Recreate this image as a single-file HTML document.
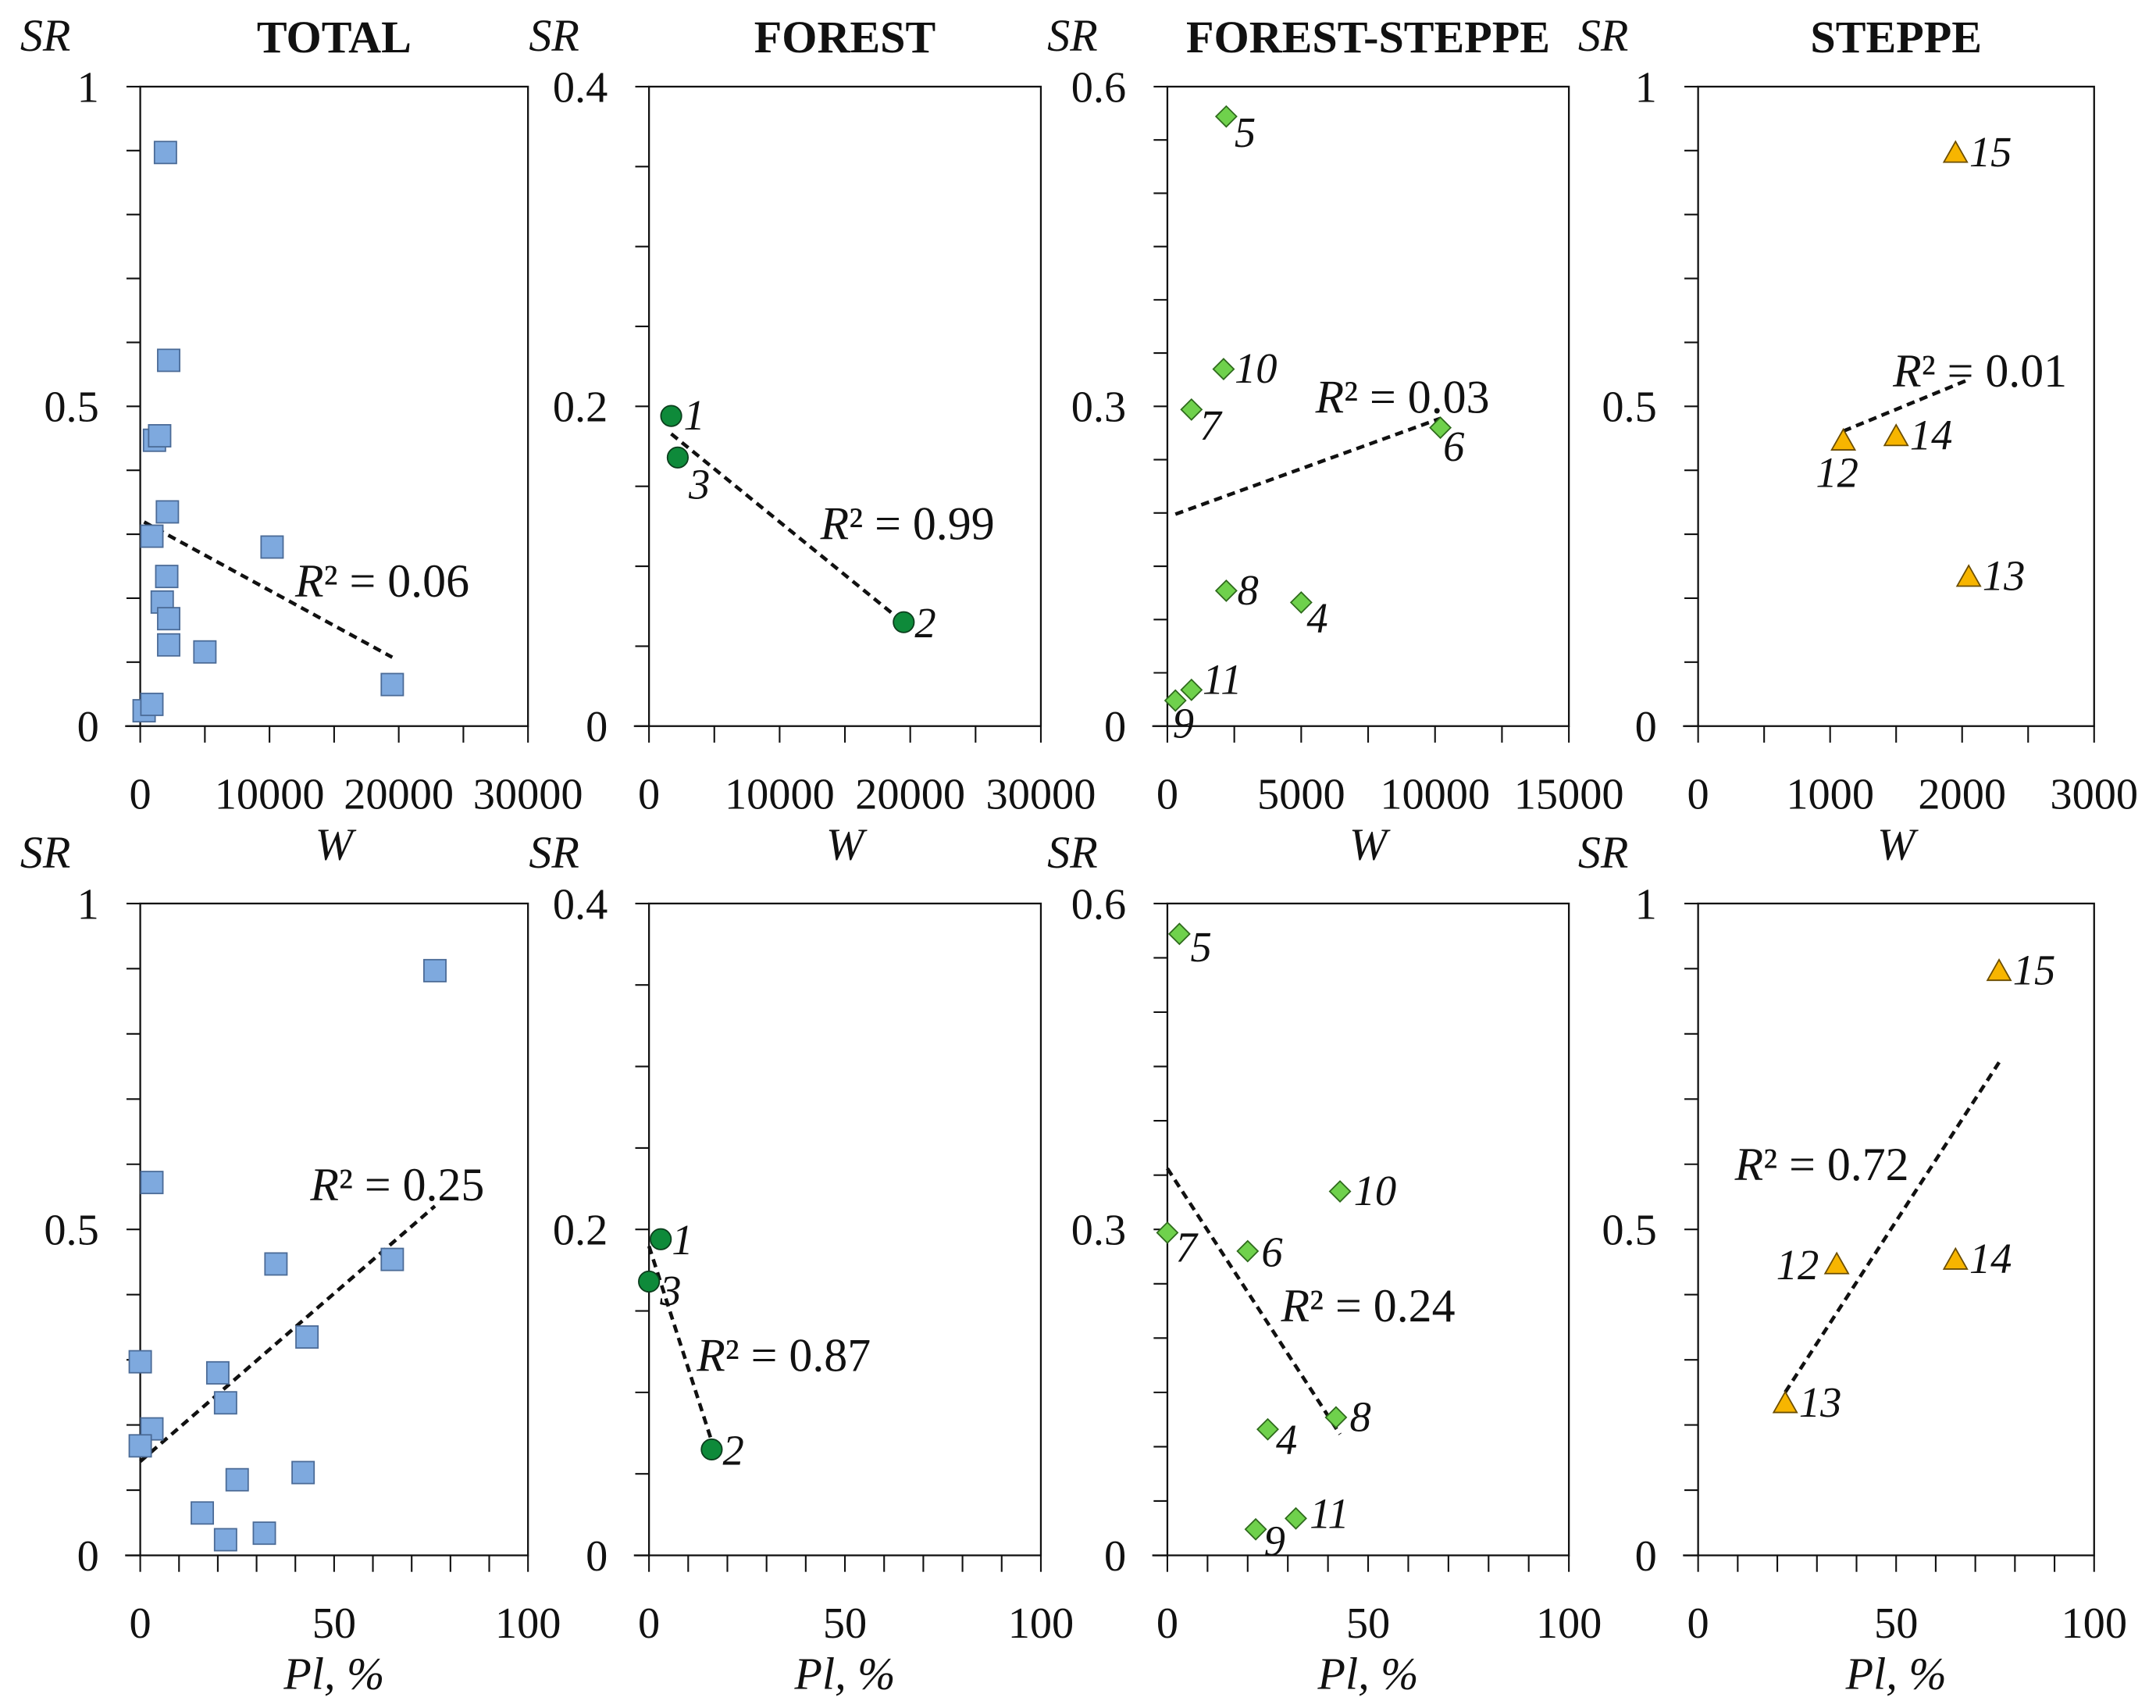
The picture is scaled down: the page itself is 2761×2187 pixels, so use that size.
<!DOCTYPE html>
<html><head><meta charset="utf-8"><style>
html,body{margin:0;padding:0;background:#fff;}
svg{display:block;}
text{font-family:"Liberation Serif","DejaVu Serif",serif;fill:#111;}
</style></head><body>
<svg id="chart" width="2761" height="2187" viewBox="0 0 1568 1242" preserveAspectRatio="none" xmlns="http://www.w3.org/2000/svg"></svg>
<script>
// Site data (site ids, W, Pl %, SR)
const siteIds = [1,2,3,4,5,6,7,8,9,10,11,12,13,14,15];
const siteW   = [1700,19500,2200,5000,2200,10200,900,2200,300,2100,900,1100,2050,1500,1950];
const sitePl  = [3,16,0,25,3,20,0,42,22,43,32,35,22,65,76];
const siteSR  = [0.194,0.065,0.168,0.116,0.572,0.28,0.297,0.127,0.024,0.335,0.034,0.447,0.234,0.454,0.897];
const zoneOf  = ['F','F','F','FS','FS','FS','FS','FS','FS','FS','FS','S','S','S','S'];
const panelTitles = ['TOTAL','FOREST','FOREST-STEPPE','STEPPE'];
const r2TopLabels = ['R² = 0.06','R² = 0.99','R² = 0.03','R² = 0.01'];
const r2BotLabels = ['R² = 0.25','R² = 0.87','R² = 0.24','R² = 0.72'];
const wTickLabels = [['0','10000','20000','30000'],['0','10000','20000','30000'],['0','5000','10000','15000'],['0','1000','2000','3000']];
const plTickLabels = ['0','50','100'];
const yTickLabels = [['0','0.5','1'],['0','0.2','0.4'],['0','0.3','0.6'],['0','0.5','1']];

const NS='http://www.w3.org/2000/svg';
const svg=document.getElementById('chart');
function el(tag,attrs,parent){const e=document.createElementNS(NS,tag);for(const k in attrs)e.setAttribute(k,attrs[k]);(parent||svg).appendChild(e);return e;}
function txt(s,x,y,size,opts,parent){const t=el('text',Object.assign({x:x,y:y,'font-size':size},opts||{}),parent);t.textContent=s;return t;}

const cols=[{x0:102,x1:384},{x0:472,x1:757},{x0:849,x1:1141},{x0:1235,x1:1523}];
const rows=[{y0:63,y1:528},{y0:657,y1:1131}];
const wMax=[30000,30000,15000,3000];
const yMax=[1,0.4,0.6,1];
const yMinor=[10,8,12,10];
const zones=[null,'F','FS','S'];
const r2Pos=[[[278,434],[660,392],[1020,300],[1440,281]],[[289,873],[570,997],[995,961],[1325,858]]];
const offTop={1:[9,10],3:[8,30],2:[8,11],5:[6,22],10:[8,10],7:[6,22],6:[2,24],8:[8,10],4:[4,22],11:[8,3],9:[-2,27],15:[10,10],12:[-20,34],14:[10,10],13:[10,10]};
const offBot={1:[8,11],3:[8,17],2:[8,11],5:[8,20],7:[6,21],6:[10,11],10:[10,10],8:[10,10],4:[6,18],11:[10,7],9:[6,19],15:[10,10],12:[-44,11],14:[10,10],13:[10,10]};

function marker(zone,cx,cy,g,name){
  let m;
  if(zone==='F') m=el('circle',{cx:cx,cy:cy,r:7.5,fill:'#0e8a3a',stroke:'#0b3d1c','stroke-width':1},g);
  else if(zone==='FS') m=el('polygon',{points:`${cx},${cy-7.5} ${cx+7.5},${cy} ${cx},${cy+7.5} ${cx-7.5},${cy}`,fill:'#6fd14c',stroke:'#2e6a1c','stroke-width':1},g);
  else if(zone==='S') m=el('polygon',{points:`${cx},${cy-8} ${cx+8.5},${cy+7} ${cx-8.5},${cy+7}`,fill:'#f7b500',stroke:'#6a4c00','stroke-width':1},g);
  else m=el('rect',{x:cx-8,y:cy-8,width:16,height:16,fill:'#7ea9de',stroke:'#4a6a96','stroke-width':1},g);
  
  
}

for(let r=0;r<2;r++){
  for(let c=0;c<4;c++){
    const {x0,x1}=cols[c],{y0,y1}=rows[r];
    const g=el('g',{});
    
    
    const xm=r===0?wMax[c]:100;
    const sx=v=>x0+v/xm*(x1-x0);
    const sy=v=>y1-v/yMax[c]*(y1-y0);
    const fr=el('rect',{x:x0,y:y0,width:x1-x0,height:y1-y0,fill:'none',stroke:'#111','stroke-width':1.3},g);
    
    
    el('line',{x1:x0-11,y1:y1,x2:x0,y2:y1,stroke:'#111','stroke-width':1.3},g);
    for(let i=0;i<=yMinor[c];i++){const yy=y1-i*(y1-y0)/yMinor[c];el('line',{x1:x0-10,y1:yy,x2:x0,y2:yy,stroke:'#111','stroke-width':1.2},g);}
    const nx=r===0?6:10;
    for(let i=0;i<=nx;i++){const xx=x0+i*(x1-x0)/nx;el('line',{x1:xx,y1:y1,x2:xx,y2:y1+12,stroke:'#111','stroke-width':1.2},g);}
    yTickLabels[c].forEach((s,i)=>{const t=txt(s,x0-30,sy(i*yMax[c]/2)+11,32,{'text-anchor':'end'},g);});
    const xl=r===0?wTickLabels[c]:plTickLabels;
    xl.forEach((s,i)=>{const t=txt(s,x0+i*(x1-x0)/(xl.length-1),y1+60,32,{'text-anchor':'middle'},g);});
    const sr=txt('SR',x0-69,y0-26,33,{'font-style':'italic','text-anchor':'middle'},g);
    
    const xt=txt(r===0?'W':'Pl, %',(x0+x1)/2,y1+97,33,{'font-style':'italic','text-anchor':'middle'},g);
    
    if(r===0){const tt=txt(panelTitles[c],(x0+x1)/2,38,33,{'font-weight':'bold','text-anchor':'middle'},g);}
    const idx=[];for(let i=0;i<siteIds.length;i++){if(!zones[c]||zoneOf[i]===zones[c])idx.push(i);}
    const xs=idx.map(i=>r===0?siteW[i]:sitePl[i]);const ys=idx.map(i=>siteSR[i]);
    const n=xs.length,mx=xs.reduce((a,b)=>a+b)/n,my=ys.reduce((a,b)=>a+b)/n;
    let sxy=0,sxx=0;for(let k=0;k<n;k++){sxy+=(xs[k]-mx)*(ys[k]-my);sxx+=(xs[k]-mx)**2;}
    const b=sxy/sxx,a=my-b*mx;const xa=Math.min(...xs),xb=Math.max(...xs);
    const tl=el('line',{x1:sx(xa),y1:sy(a+b*xa),x2:sx(xb),y2:sy(a+b*xb),stroke:'#111','stroke-width':2.6,'stroke-dasharray':'6,4'},g);
    
    idx.forEach((i,k)=>{
      marker(zones[c],sx(xs[k]),sy(ys[k]),g,'point-site-'+siteIds[i]);
      if(zones[c]){const o=(r===0?offTop:offBot)[siteIds[i]];const t=txt(String(siteIds[i]),sx(xs[k])+o[0],sy(ys[k])+o[1],31,{'font-style':'italic'},g);}
    });
    const p=r2Pos[r][c];
    const rt=el('text',{x:p[0],y:p[1],'font-size':34,'text-anchor':'middle'},g);
    const lab=(r===0?r2TopLabels:r2BotLabels)[c];
    const t1=el('tspan',{'font-style':'italic'},rt);t1.textContent='R';
    const t2=el('tspan',{},rt);t2.textContent=lab.slice(1);
    
  }
}
</script>
</body></html>
